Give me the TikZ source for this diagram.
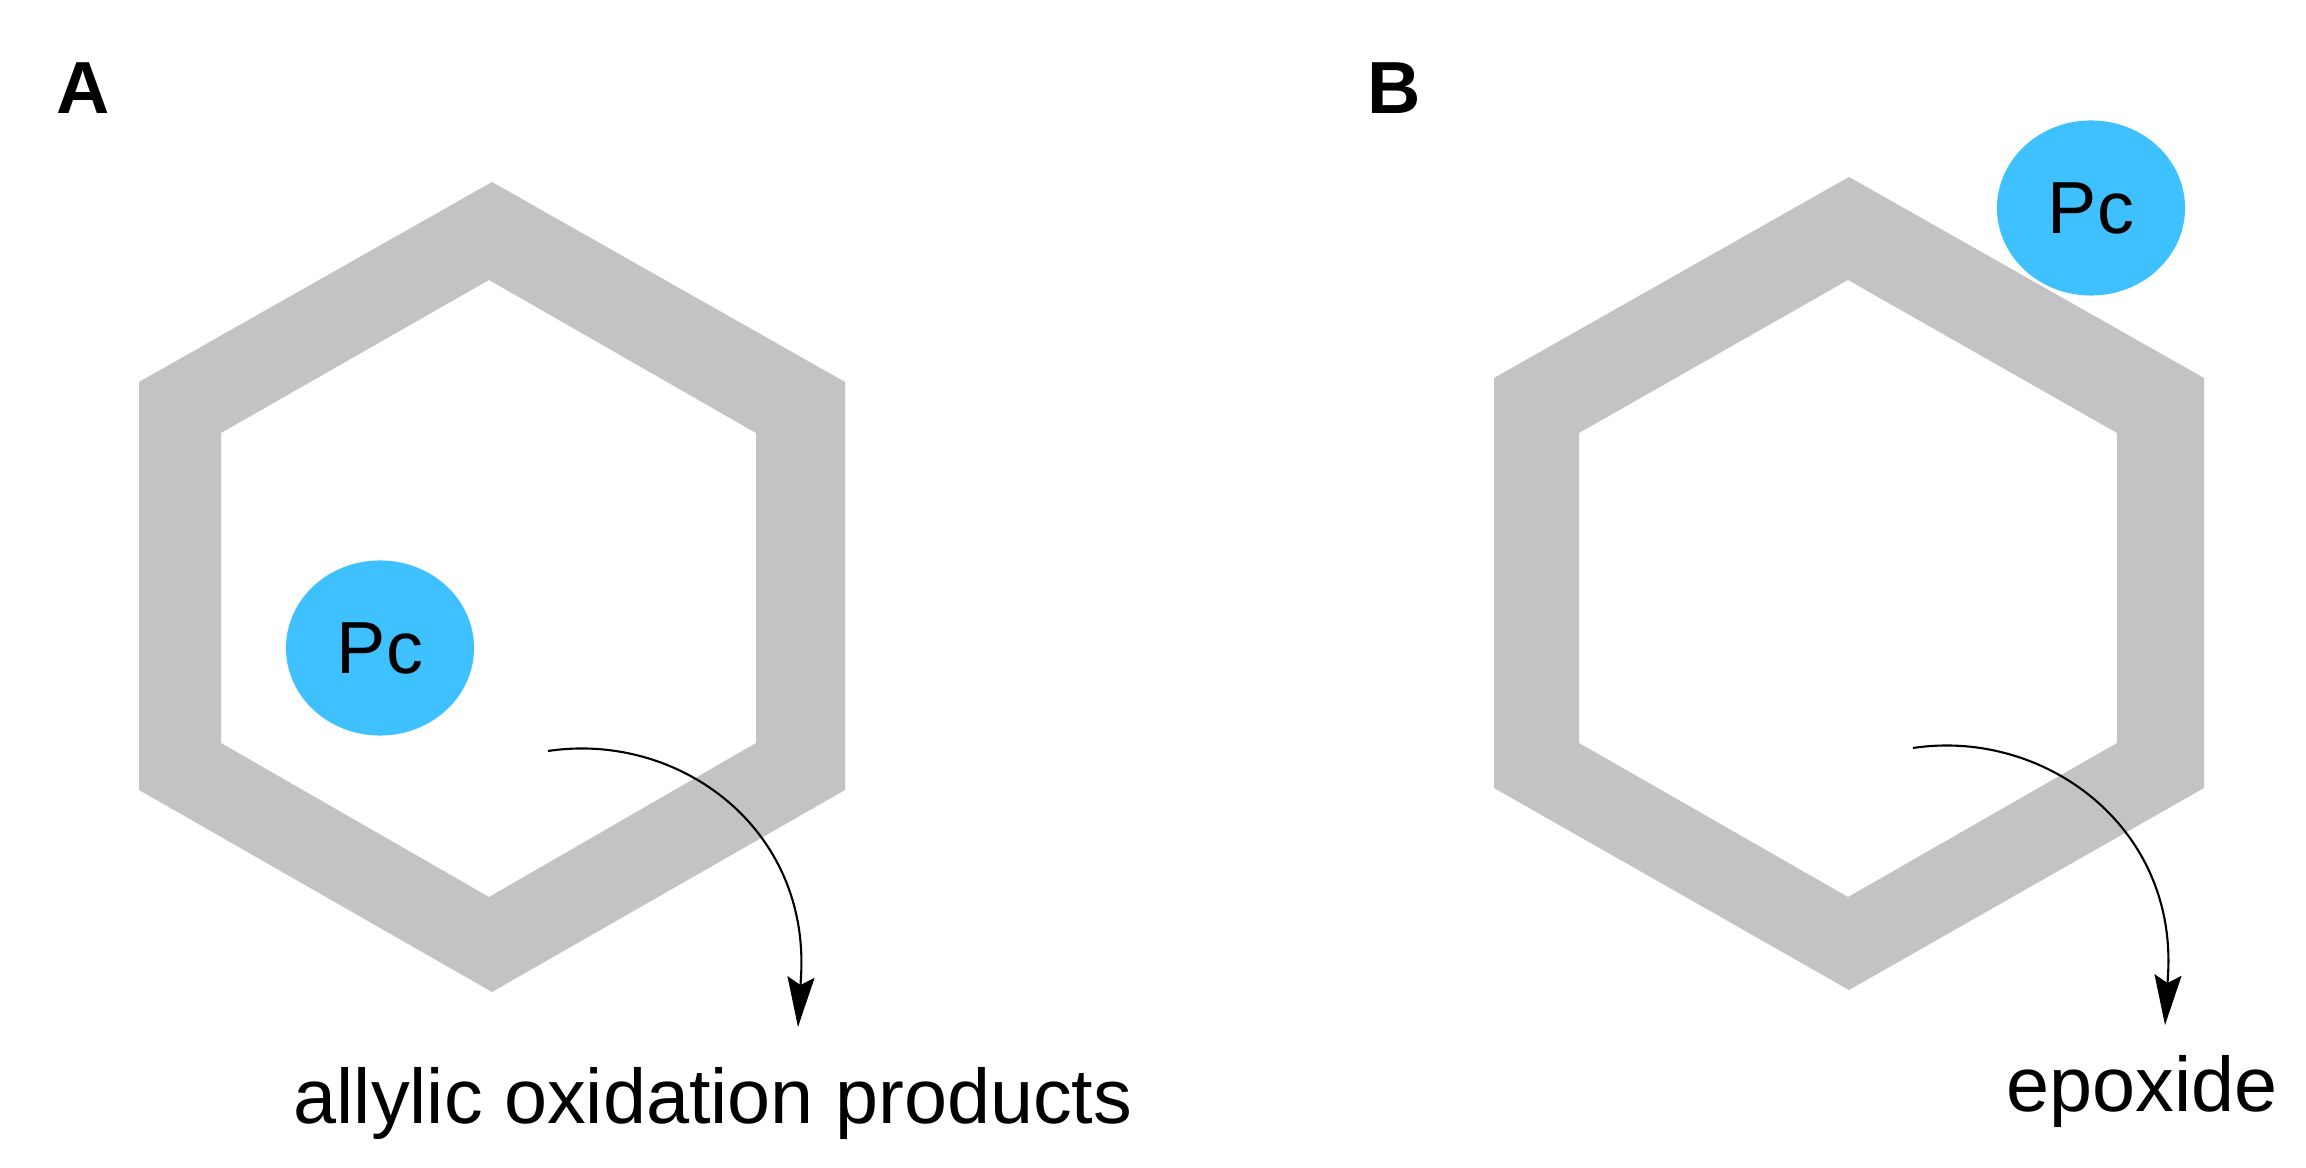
\documentclass[tikz,border=0pt]{standalone}
\usepackage{fontspec}
\setmainfont{Liberation Sans}
\usetikzlibrary{arrows.meta,shapes.geometric}
\definecolor{ringgray}{RGB}{195,195,195}
\definecolor{pcblue}{RGB}{63,193,255}
\begin{document}
\begin{tikzpicture}[x=0.01cm,y=-0.01cm,
  ring/.style={fill=ringgray, even odd rule},
  pcnode/.style={ellipse, fill=pcblue, minimum width=1.88cm, minimum height=1.75cm, inner sep=0pt, font=\fontsize{21}{25}\selectfont},
  lbl/.style={anchor=base west, inner sep=0pt, font=\fontsize{22}{26}\selectfont},
  panel/.style={anchor=base west, inner sep=0pt, font=\fontsize{21}{25}\selectfont\bfseries},
  react/.style={line width=0.6pt, -{Stealth[length=0.5cm,width=0.27cm,inset=0.08cm]}}]
\useasboundingbox (0,0) rectangle (2306,1168);
% panel A ring
\path[ring] (492,182) -- (845,382) -- (845,790) -- (492,992) -- (139,790) -- (139,382) -- cycle
  (489,280) -- (756,433) -- (756,743) -- (489,897) -- (221,743) -- (221,433) -- cycle;
% panel B ring
\path[ring] (1849,177) -- (2204,378) -- (2204,788) -- (1849,990) -- (1494,788) -- (1494,378) -- cycle
  (1848,280) -- (2117,433) -- (2117,743) -- (1848,897) -- (1579,743) -- (1579,433) -- cycle;
% Pc particles
\node[pcnode] (pcA) at (380,648) {Pc};
\node[pcnode] (pcB) at (2091,208) {Pc};
% panel labels
\node[panel] (labA) at (56,114) {A};
\node[panel] (labB) at (1367,114) {B};
% product labels
\node[lbl] (prodA) at (293,1124) {allylic oxidation products};
\node[lbl] (prodB) at (2006,1112) {epoxide};
% reaction arrows
\coordinate (sA) at (548,751);
\coordinate (bA) at (801,977);
\coordinate (tA) at (798,1027);
\draw[react] (sA) .. controls (678,731.5) and (810,827) .. (bA) -- (tA);
\coordinate (sB) at (1913,748);
\coordinate (bB) at (2168,975);
\coordinate (tB) at (2165,1025);
\draw[react] (sB) .. controls (2043,728.5) and (2177,825) .. (bB) -- (tB);
\end{tikzpicture}
\end{document}
